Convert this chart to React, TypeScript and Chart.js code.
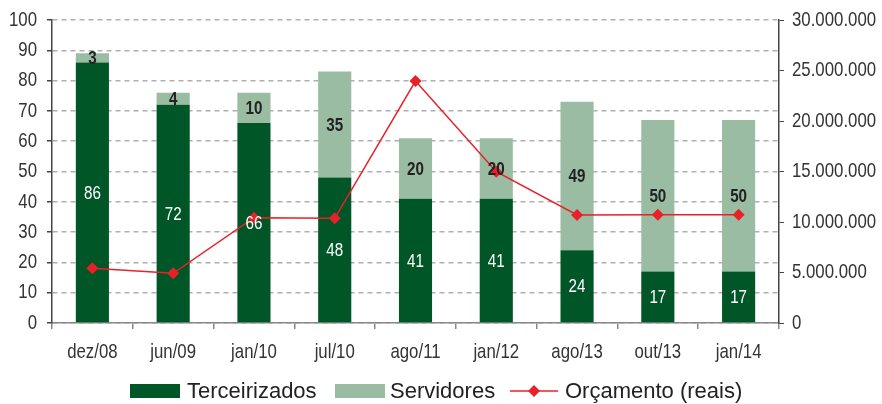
import React, { useEffect, useRef } from "react";
import { Chart, registerables } from "chart.js";

Chart.register(...registerables);

const categories = ["dez/08", "jun/09", "jan/10", "jul/10", "ago/11", "jan/12", "ago/13", "out/13", "jan/14"];
const terceirizados = [86, 72, 66, 48, 41, 41, 24, 17, 17];
const servidores = [3, 4, 10, 35, 20, 20, 49, 50, 50];
const orcamento = [5420000, 4920000, 10430000, 10370000, 23960000, 14980000, 10690000, 10720000, 10720000];

const DARK = "#005626";
const LIGHT = "#99bca2";
const RED = "#e8202a";
const SANS = '"Liberation Sans", Arial, sans-serif';
const SQUEEZE = 0.8;

const fmt = (v: number) => Math.round(v).toString().replace(/\B(?=(\d{3})+(?!\d))/g, ".");

// draws text horizontally condensed (to imitate a narrow typeface)
function narrowText(ctx: CanvasRenderingContext2D, text: string, x: number, y: number, align: CanvasTextAlign, font: string, color: string) {
  ctx.save();
  ctx.font = font;
  ctx.fillStyle = color;
  ctx.textAlign = align;
  ctx.textBaseline = "middle";
  ctx.translate(x, y);
  ctx.scale(SQUEEZE, 1);
  ctx.fillText(text, 0, 0);
  ctx.restore();
}

const tickLabelPlugin = {
  id: "tickLabels",
  afterDraw(chart: any) {
    const ctx = chart.ctx;
    const font = `21px ${SANS}`;
    const xs = chart.scales.x;
    xs.ticks.forEach((t: any, i: number) => {
      narrowText(ctx, String(xs.getLabelForValue(t.value)), xs.getPixelForTick(i), 352, "center", font, "#333");
    });
    const ys = chart.scales.y;
    ys.ticks.forEach((t: any) => {
      narrowText(ctx, String(t.value), ys.left + ys.width - 15, ys.getPixelForValue(t.value), "right", font, "#333");
    });
    const y2 = chart.scales.y2;
    y2.ticks.forEach((t: any) => {
      narrowText(ctx, fmt(t.value), y2.left + 13, y2.getPixelForValue(t.value), "left", font, "#333");
    });
  },
};

const labelPlugin = {
  id: "barLabels",
  afterDatasetsDraw(chart: any) {
    const ctx = chart.ctx;
    [0, 1].forEach((di) => {
      const meta = chart.getDatasetMeta(di);
      const data = chart.data.datasets[di].data as number[];
      meta.data.forEach((el: any, i: number) => {
        const cy = (el.y + el.base) / 2;
        if (di === 0) {
          narrowText(ctx, String(data[i]), el.x, cy + 1, "center", `19px ${SANS}`, "#ffffff");
        } else {
          narrowText(ctx, String(data[i]), el.x, cy + 1, "center", `bold 19px ${SANS}`, "#222222");
        }
      });
    });
  },
};

const legendPlugin = {
  id: "customLegend",
  afterDraw(chart: any) {
    const ctx = chart.ctx;
    const y = 391;
    ctx.save();
    ctx.font = `22px ${SANS}`;
    ctx.textBaseline = "middle";
    ctx.textAlign = "left";
    ctx.fillStyle = DARK;
    ctx.fillRect(130, 384, 50, 14);
    ctx.fillStyle = "#222";
    ctx.fillText(chart.data.datasets[0].label, 187, y + 1);
    ctx.fillStyle = LIGHT;
    ctx.fillRect(335, 384, 50, 14);
    ctx.fillStyle = "#222";
    ctx.fillText(chart.data.datasets[1].label, 390, y + 1);
    ctx.strokeStyle = RED;
    ctx.lineWidth = 1.5;
    ctx.beginPath();
    ctx.moveTo(510, y);
    ctx.lineTo(558, y);
    ctx.stroke();
    ctx.fillStyle = RED;
    ctx.beginPath();
    ctx.moveTo(534, y - 6);
    ctx.lineTo(540, y);
    ctx.lineTo(534, y + 6);
    ctx.lineTo(528, y);
    ctx.closePath();
    ctx.fill();
    ctx.fillStyle = "#222";
    ctx.fillText(chart.data.datasets[2].label, 565, y + 1);
    ctx.restore();
  },
};

export default function App() {
  const ref = useRef<HTMLCanvasElement>(null);
  useEffect(() => {
    if (!ref.current) return;
    const chart = new Chart(ref.current, {
      type: "bar",
      data: {
        labels: categories,
        datasets: [
          {
            type: "bar",
            label: "Terceirizados",
            data: terceirizados,
            backgroundColor: DARK,
            yAxisID: "y",
            stack: "s",
            barPercentage: 0.41,
            categoryPercentage: 1,
            order: 2,
          },
          {
            type: "bar",
            label: "Servidores",
            data: servidores,
            backgroundColor: LIGHT,
            yAxisID: "y",
            stack: "s",
            barPercentage: 0.41,
            categoryPercentage: 1,
            order: 2,
          },
          {
            type: "line",
            label: "Orçamento (reais)",
            data: orcamento,
            borderColor: RED,
            backgroundColor: RED,
            borderWidth: 1.5,
            pointStyle: "rectRot",
            pointRadius: 6,
            pointBorderWidth: 0,
            yAxisID: "y2",
            order: 1,
          } as any,
        ],
      },
      options: {
        responsive: false,
        animation: false,
        layout: { padding: { top: 20, bottom: 0, left: 0, right: 0 } },
        plugins: { legend: { display: false }, tooltip: { enabled: false } },
        scales: {
          x: {
            stacked: true,
            offset: true,
            grid: {
              display: true,
              drawOnChartArea: false,
              drawTicks: true,
              tickLength: 6,
              offset: true,
              color: "#888",
              lineWidth: 1.5,
            },
            border: { color: "#888", width: 1.5 },
            ticks: { display: false },
            afterFit: (s: any) => { s.height = 81; },
          },
          y: {
            stacked: true,
            position: "left",
            min: 0,
            max: 100,
            ticks: { stepSize: 10, display: false },
            grid: {
              color: "#b0b0b0",
              lineWidth: 1.5,
              tickLength: 5,
              tickColor: "#444",
              tickBorderDash: [],
            },
            border: { color: "#444", width: 1.5, dash: [5, 4] },
            afterFit: (s: any) => { s.width = 52; },
          },
          y2: {
            position: "right",
            min: 0,
            max: 30000000,
            ticks: { stepSize: 5000000, display: false },
            grid: { drawOnChartArea: false, tickLength: 5, color: "#444" },
            border: { color: "#444", width: 1.5 },
            afterFit: (s: any) => { s.width = 103; },
          },
        },
      } as any,
      plugins: [labelPlugin, legendPlugin, tickLabelPlugin],
    });
    return () => chart.destroy();
  }, []);
  return (
    <div style={{ position: "fixed", left: 0, top: 0, width: 882, height: 404, background: "#fff" }}>
      <canvas ref={ref} width={882} height={404} style={{ display: "block" }} />
    </div>
  );
}
